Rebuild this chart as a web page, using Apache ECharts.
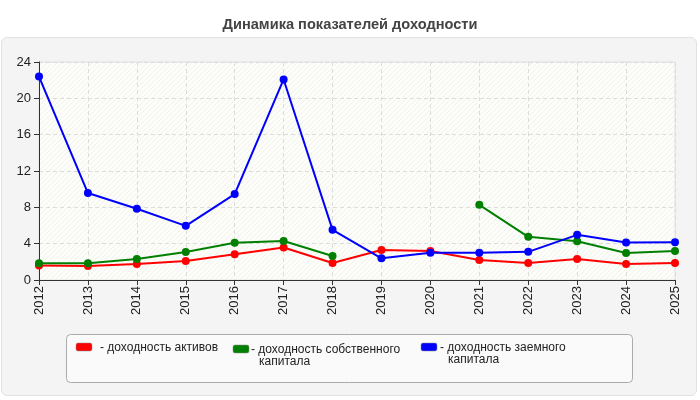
<!DOCTYPE html>
<html><head><meta charset="utf-8">
<script src="https://cdn.jsdelivr.net/npm/echarts@6/dist/echarts.min.js"></script>
<style>
html,body{margin:0;padding:0;background:#fff;}
#wrap{position:relative;width:700px;height:400px;}
#panel{position:absolute;left:1px;top:37px;width:696px;height:359px;background:#f4f4f4;border:1px solid #e2e2e2;border-radius:6px;box-sizing:border-box;}
#chart{position:absolute;left:0;top:0;width:700px;height:400px;}
</style></head>
<body><div id="wrap"><div id="panel"></div><div id="chart"></div></div>
<script>
var titleText = 'Динамика показателей доходности';
var categories = ['2012','2013','2014','2015','2016','2017','2018','2019','2020','2021','2022','2023','2024','2025'];
var assetsReturn = [1.6, 1.55, 1.77, 2.1, 2.83, 3.57, 1.88, 3.31, 3.2, 2.2, 1.88, 2.32, 1.77, 1.88];
var equityReturn = [1.84, 1.85, 2.32, 3.09, 4.09, 4.3, 2.65, null, null, 8.28, 4.75, 4.27, 2.98, 3.2];
var debtReturn = [22.4, 9.57, 7.84, 5.96, 9.46, 22.08, 5.52, 2.39, 3.0, 3.0, 3.1, 4.97, 4.12, 4.16];
var seriesNames = ['доходность активов', 'доходность собственного', 'доходность заемного'];
var seriesNames2 = ['', 'капитала', 'капитала'];
var seriesColors = ['#ff0000', '#008000', '#0000ff'];
var yTicks = [0, 4, 8, 12, 16, 20, 24];

// hatched background pattern
var pc = document.createElement('canvas');
pc.width = 5; pc.height = 5;
var ctx = pc.getContext('2d');
ctx.fillStyle = '#fdfdfa'; ctx.fillRect(0,0,5,5);
ctx.strokeStyle = '#f1f1ec'; ctx.lineWidth = 1;
ctx.beginPath(); ctx.moveTo(0,5); ctx.lineTo(5,0); ctx.stroke();
ctx.beginPath(); ctx.moveTo(-1,1); ctx.lineTo(1,-1); ctx.stroke();
ctx.beginPath(); ctx.moveTo(4,6); ctx.lineTo(6,4); ctx.stroke();

var chart = echarts.init(document.getElementById('chart'), null, {renderer:'canvas'});
var font = '"Liberation Sans", Arial, sans-serif';
var dataSets = [assetsReturn, equityReturn, debtReturn];

var swatchX = [76, 233, 421];
var swatchY = [343, 345, 343];
var dashX = [100, 251, 440];
var textY = [348, 350, 348];
var graphics = [{
  type:'rect', shape:{x:66.5, y:334.5, width:566, height:48, r:4},
  style:{fill:'#fafafa', stroke:'#aaaaaa', lineWidth:1}
}];
for (var i = 0; i < 3; i++) {
  graphics.push({type:'rect', shape:{x:swatchX[i], y:swatchY[i], width:16, height:8, r:2},
    style:{fill:seriesColors[i], stroke:'#888', lineWidth:0.5}});
  graphics.push({type:'text', x:dashX[i], y:textY[i],
    style:{text:'- ' + seriesNames[i], fill:'#222', font:'12px '+font, textVerticalAlign:'middle'}});
  if (seriesNames2[i]) {
    graphics.push({type:'text', x:dashX[i]+8, y:textY[i]+12,
      style:{text:seriesNames2[i], fill:'#222', font:'12px '+font, textVerticalAlign:'middle'}});
  }
}

chart.setOption({
  backgroundColor: 'transparent',
  animation: false,
  title: {text: titleText, left: 'center', top: 12,
    textStyle:{fontSize:14.6, fontWeight:'bold', color:'#444', fontFamily:font}},
  grid: {left:39, right:25, top:62, bottom:120, show:true,
    backgroundColor:{image:pc, repeat:'repeat'}, borderColor:'#e0e0e0', borderWidth:1},
  xAxis: {type:'category', data:categories, boundaryGap:false,
    axisLine:{lineStyle:{color:'#333', width:1}},
    axisTick:{show:true, length:5, lineStyle:{color:'#333'}, alignWithLabel:true},
    axisLabel:{rotate:90, fontSize:13, color:'#222', fontFamily:font, margin:6, interval:0},
    splitLine:{show:true, lineStyle:{color:'#dcdcdc', type:[4,3]}}},
  yAxis: {type:'value', min:yTicks[0], max:yTicks[yTicks.length-1], interval:yTicks[1]-yTicks[0],
    axisLine:{show:true, lineStyle:{color:'#333', width:1}},
    axisTick:{show:true, length:5, lineStyle:{color:'#333'}},
    axisLabel:{fontSize:13, color:'#222', fontFamily:font, margin:8},
    splitLine:{show:true, lineStyle:{color:'#dcdcdc', type:[4,3]}}},
  graphic: graphics,
  series: dataSets.map(function(d, i){
    return {name: seriesNames[i], type:'line', data:d, connectNulls:false,
      symbol:'circle', symbolSize:8, showAllSymbol:true,
      lineStyle:{color:seriesColors[i], width:2},
      itemStyle:{color:seriesColors[i]}, z: 3+i};
  })
});
</script></body></html>
